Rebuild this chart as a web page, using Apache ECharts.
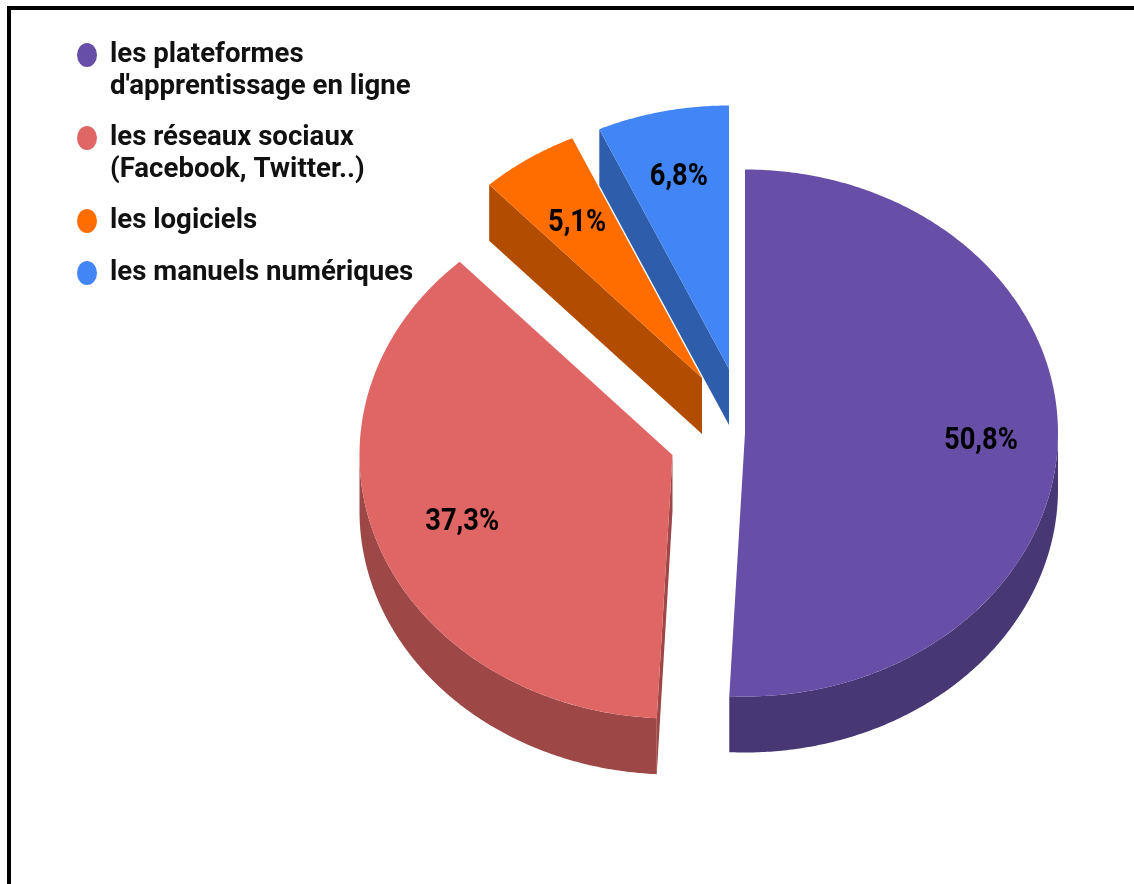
<!DOCTYPE html>
<html><head><meta charset="utf-8">
<style>html,body{margin:0;padding:0;background:#fff}#c{width:1134px;height:884px}</style>
<script src="https://cdn.jsdelivr.net/npm/echarts@6/dist/echarts.min.js"></script>
</head><body><div id="c"></div>
<script>
const categories = ["les plateformes\nd'apprentissage en ligne", "les réseaux sociaux\n(Facebook, Twitter..)", "les logiciels", "les manuels numériques"];
const shares = [50.8, 37.3, 5.1, 6.8];
const shareLabels = ["50,8%", "37,3%", "5,1%", "6,8%"];
const topColors = ["#674ea7", "#e06666", "#ff6d01", "#4285f4"];
const wallColors = ["#483775", "#9d4747", "#b24c00", "#2e5dab"];

// pie geometry (layout only)
const RX = 313, RY = 263.5, DEPTH = 56;
const apexes = [[745, 433], [672.5, 455], [702, 378], [729, 369]];
const labelRadius = [0.754, 0.715, 0.72, 0.756];
const LABEL_SHIFT_Y = 3;
const legendTops = [7, 90, 205, 257];
const drawOrder = [3, 2, 1, 0];

const total = shares.reduce((a, b) => a + b, 0);
const starts = shares.map((_, i) => shares.slice(0, i).reduce((a, b) => a + b, 0) / total * 360);
const rad = d => d * Math.PI / 180;
const rim = (c, deg, dy) => [c[0] + RX * Math.sin(rad(deg)), c[1] - RY * Math.cos(rad(deg)) + (dy || 0)];
function arc(c, from, to, dy) {
  const n = Math.max(2, Math.ceil(Math.abs(to - from) * 2)), pts = [];
  for (let k = 0; k <= n; k++) pts.push(rim(c, from + (to - from) * k / n, dy));
  return pts;
}
function renderSlice(i) {
  const c = apexes[i], a0 = starts[i], a1 = a0 + shares[i] / total * 360;
  const kids = [];
  const wall = (pts) => kids.push({ type: 'polygon', shape: { points: pts }, style: { fill: wallColors[i] } });
  // radial cut face at the slice's start, visible when it faces the viewer
  if (a0 > 180) wall([c, rim(c, a0), rim(c, a0, DEPTH), [c[0], c[1] + DEPTH]]);
  // outer rim, front half only
  const f0 = Math.max(a0, 90), f1 = Math.min(a1, 270);
  if (f1 > f0) wall(arc(c, f0, f1).concat(arc(c, f1, f0, DEPTH)));
  // top face
  kids.push({ type: 'polygon', shape: { points: [c].concat(arc(c, a0, a1)) }, style: { fill: topColors[i] } });
  // value label
  const mid = (a0 + a1) / 2, r = labelRadius[i];
  kids.push({
    type: 'text', scaleX: 0.88,
    x: c[0] + RX * r * Math.sin(rad(mid)), y: c[1] - RY * r * Math.cos(rad(mid)) + LABEL_SHIFT_Y,
    style: { text: shareLabels[i], align: 'center', verticalAlign: 'middle', fill: '#000',
      font: 'bold 31px Roboto' }
  });
  return { type: 'group', children: kids };
}
const icon = 'path://M0,-1A1,1,0,1,1,0,1A1,1,0,1,1,0,-1Z';
const LINE = 32;
const chart = echarts.init(document.getElementById('c'), null, { renderer: 'canvas' });
chart.setOption({
  animation: false,
  backgroundColor: '#fff',
  legend: categories.map((name, i) => ({
    data: [{ name, icon }],
    selectedMode: false, orient: 'vertical', left: 77, top: legendTops[i], padding: 0,
    itemWidth: 20, itemHeight: 24, symbolKeepAspect: false,
    // a blank first line keeps the marker level with the first line of wrapped text
    formatter: n => (n.includes('\n') ? '\n' : '') + n,
    textStyle: { fontFamily: 'Roboto', fontWeight: 'bold', fontSize: 27.6, lineHeight: LINE, color: '#111',
      padding: [0, 0, 0, 8] }
  })),
  graphic: [
    { type: 'rect', shape: { x: 7, y: 6, width: 1127, height: 4 }, style: { fill: '#000' } },
    { type: 'rect', shape: { x: 7, y: 6, width: 4, height: 878 }, style: { fill: '#000' } }
  ],
  series: drawOrder.map(i => ({
    type: 'custom', name: categories[i], coordinateSystem: 'none', silent: true,
    itemStyle: { color: topColors[i] },
    data: [shares[i]],
    renderItem: () => renderSlice(i)
  }))
});
</script></body></html>
